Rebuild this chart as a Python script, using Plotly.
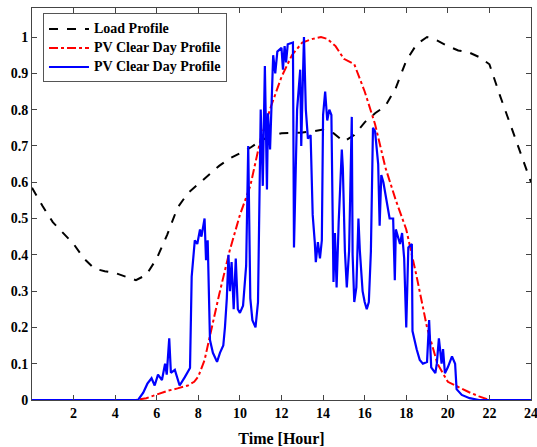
import plotly.graph_objects as go

# Load profile (black dashed)
load_x = [0, 0.5, 1, 1.5, 2, 2.5, 3, 3.5, 4, 4.5, 5, 5.5, 6, 6.5, 7, 7.5, 8, 8.5, 9, 9.5,
          10, 10.5, 11, 11.5, 12, 12.5, 13, 13.5, 14, 14.5, 15, 15.5, 16, 16.5, 17, 17.5,
          18, 18.5, 19, 19.5, 20, 20.5, 21, 21.5, 22, 22.5, 23, 23.5, 24]
load_y = [0.585, 0.535, 0.49, 0.46, 0.43, 0.39, 0.362, 0.355, 0.35, 0.34, 0.33, 0.345,
          0.39, 0.455, 0.53, 0.57, 0.595, 0.62, 0.645, 0.665, 0.68, 0.695, 0.715, 0.727,
          0.735, 0.735, 0.737, 0.74, 0.745, 0.735, 0.712, 0.73, 0.765, 0.79, 0.81, 0.86,
          0.935, 0.98, 1.0, 0.99, 0.975, 0.963, 0.958, 0.945, 0.925, 0.84, 0.76, 0.68, 0.6]

# PV clear day profile (red dash-dot)
clear_x = [0, 5.0, 5.5, 6, 6.5, 7, 7.5, 7.8, 8.0, 8.3, 8.6, 9, 9.5, 10, 10.5, 11, 11.5,
           12, 12.5, 13, 13.5, 13.9, 14.2, 14.6, 15, 15.5, 16, 16.5, 17, 17.5, 18, 18.5,
           19, 19.5, 20, 20.5, 21, 21.5, 22, 24]
clear_y = [0, 0, 0.005, 0.015, 0.025, 0.032, 0.04, 0.05, 0.065, 0.11, 0.19, 0.29, 0.41,
           0.51, 0.59, 0.72, 0.81, 0.89, 0.95, 0.985, 0.995, 1.0, 0.995, 0.975, 0.94,
           0.925, 0.85, 0.76, 0.64, 0.55, 0.47, 0.34, 0.2, 0.1, 0.05, 0.035, 0.022, 0.01, 0, 0]

# PV measured profile (blue solid)
pv_x = [0, 5.1, 5.35, 5.55, 5.75, 5.9, 6.06, 6.25, 6.4, 6.48, 6.6, 6.68, 6.87, 7.1, 7.35,
        7.6, 7.68, 7.75, 7.83, 7.95, 8.08, 8.15, 8.3, 8.37, 8.45, 8.56, 8.7, 8.9, 9.04,
        9.2, 9.28, 9.37, 9.45, 9.52, 9.6, 9.7, 9.8, 9.9, 10.0, 10.15, 10.3, 10.4, 10.5,
        10.6, 10.75, 10.87, 11.0, 11.1, 11.2, 11.3, 11.35, 11.45, 11.6, 11.7, 11.8, 12.0,
        12.07, 12.15, 12.22, 12.3, 12.55, 12.6, 12.75, 12.9, 12.95, 13.0, 13.08, 13.17,
        13.27, 13.4, 13.45, 13.5, 13.6, 13.65, 13.75, 13.85, 13.94, 14.0, 14.1, 14.2,
        14.3, 14.4, 14.5, 14.57, 14.65, 14.75, 14.9, 14.95, 15.05, 15.14, 15.25, 15.38,
        15.42, 15.5, 15.6, 15.7, 15.77, 15.9, 16.0, 16.1, 16.2, 16.3, 16.4, 16.5, 16.6,
        16.65, 16.72, 16.8, 16.9, 17.05, 17.2, 17.37, 17.45, 17.5, 17.7, 17.8, 17.9, 18.0,
        18.1, 18.27, 18.3, 18.5, 18.65, 18.8, 19.0, 19.1, 19.2, 19.4, 19.47, 19.57, 19.7,
        19.77, 19.86, 20.0, 20.2, 20.35, 20.42, 20.67, 21.05, 21.5, 24]
pv_y = [0, 0, 0.02, 0.045, 0.06, 0.04, 0.07, 0.055, 0.1, 0.07, 0.17, 0.075, 0.083, 0.04,
        0.063, 0.088, 0.34, 0.40, 0.44, 0.43, 0.47, 0.45, 0.50, 0.385, 0.44, 0.165, 0.13,
        0.105, 0.13, 0.15, 0.2, 0.28, 0.40, 0.30, 0.38, 0.25, 0.39, 0.25, 0.24, 0.26, 0.37,
        0.70, 0.28, 0.22, 0.20, 0.27, 0.80, 0.59, 0.92, 0.58, 0.79, 0.69, 0.95, 0.90, 0.96,
        0.97, 0.91, 0.975, 0.93, 0.98, 0.985, 0.42, 0.80, 0.91, 0.70, 0.82, 1.0, 0.80, 0.72,
        0.73, 0.61, 0.51, 0.435, 0.38, 0.435, 0.39, 0.44, 0.785, 0.85, 0.77, 0.80, 0.785,
        0.325, 0.46, 0.31, 0.49, 0.69, 0.64, 0.41, 0.31, 0.41, 0.78, 0.40, 0.27, 0.31, 0.50,
        0.41, 0.30, 0.27, 0.25, 0.27, 0.41, 0.75, 0.74, 0.68, 0.65, 0.48, 0.62, 0.60, 0.55,
        0.50, 0.50, 0.33, 0.47, 0.43, 0.46, 0.39, 0.20, 0.42, 0.43, 0.19, 0.14, 0.11, 0.10,
        0.105, 0.22, 0.09, 0.074, 0.10, 0.17, 0.10, 0.14, 0.074, 0.09, 0.12, 0.10, 0.03,
        0.014, 0.005, 0, 0]

x_tickvals = [0, 2, 4, 6, 8, 10, 12, 14, 16, 18, 20, 22, 24]
x_ticktext = ["", "2", "4", "6", "8", "10", "12", "14", "16", "18", "20", "22", "24"]
y_tickvals = [0, 0.1, 0.2, 0.3, 0.4, 0.5, 0.6, 0.7, 0.8, 0.9, 1]
y_ticktext = ["0", "0.1", "0.2", "0.3", "0.4", "0.5", "0.6", "0.7", "0.8", "0.9", "1"]

names = ["Load Profile", "PV Clear Day Profile", "PV Clear Day Profile"]


def legend_label(s):
    return '<span style="font-size:14px"><b>%s</b></span>' % s


fig = go.Figure()
fig.add_trace(go.Scatter(x=load_x, y=load_y, mode="lines", name=legend_label(names[0]),
                         line=dict(color="black", width=2, dash="dash")))
fig.add_trace(go.Scatter(x=clear_x, y=clear_y, mode="lines", name=legend_label(names[1]),
                         line=dict(color="#ff0000", width=2, dash="dashdot")))
fig.add_trace(go.Scatter(x=pv_x, y=pv_y, mode="lines", name=legend_label(names[2]),
                         line=dict(color="#0000ff", width=2.2)))

font_family = "Liberation Serif"
fig.update_layout(
    width=537, height=447,
    margin=dict(l=32, r=6, t=8, b=47),
    plot_bgcolor="white", paper_bgcolor="white",
    font=dict(family=font_family, size=14, color="black"),
    showlegend=True,
    legend=dict(x=0.022, y=0.986, xanchor="left", yanchor="top",
                bgcolor="white", bordercolor="#555555", borderwidth=1,
                font=dict(family=font_family, size=11, color="black"),
                tracegroupgap=0, itemwidth=40),
)
fig.update_xaxes(
    range=[0, 24], tickvals=x_tickvals,
    ticktext=["<b>%s</b>" % t if t else "" for t in x_ticktext],
    ticklabeloverflow="allow", automargin=False,
    ticks="inside", ticklen=5, tickcolor="#444444", showgrid=False, zeroline=False,
    showline=True, linecolor="#444444", linewidth=1, mirror="ticks",
    tickfont=dict(family=font_family, size=14, color="black"),
    title=dict(text="<b>Time [Hour]</b>",
               font=dict(family=font_family, size=16, color="black")),
)
fig.update_yaxes(
    range=[0, 1.08], tickvals=y_tickvals, ticktext=["<b>%s</b>" % t for t in y_ticktext],
    ticklabeloverflow="allow", automargin=False,
    ticks="inside", ticklen=5, tickcolor="#444444", showgrid=False, zeroline=False,
    showline=True, linecolor="#444444", linewidth=1, mirror="ticks",
    tickfont=dict(family=font_family, size=14, color="black"),
)

fig.write_html("out.html", config={"displayModeBar": False},
               post_script="document.body.style.margin='0px';")
